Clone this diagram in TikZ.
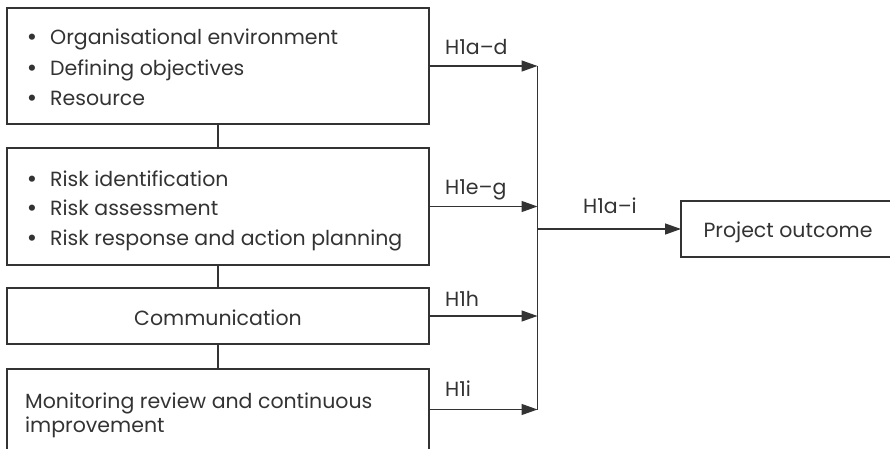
\documentclass[tikz,border=0pt]{standalone}
\usepackage{fontspec}
\setmainfont{Poppins}
\usetikzlibrary{arrows.meta}
\definecolor{ink}{HTML}{333333}
\begin{document}
\begin{tikzpicture}[x=1pt,y=-1pt,
  box/.style={draw=ink, line width=1.3pt, inner sep=0pt, outer sep=0pt},
  txt/.style={anchor=base west, inner sep=0pt, text=ink, font=\fontsize{20.5}{24}\selectfont},
  ctxt/.style={anchor=base, inner sep=0pt, text=ink, font=\fontsize{20.5}{24}\selectfont},
  bul/.style={anchor=base, inner sep=0pt, text=ink, font=\fontsize{25}{28}\selectfont},
  lbl/.style={anchor=base west, inner sep=0pt, text=ink, font=\fontsize{20.5}{24}\selectfont},
  arr/.style={draw=ink, line width=1.3pt, -{Triangle[length=16pt,width=11pt]}},
  link/.style={draw=ink, line width=1.3pt}]
\useasboundingbox (0,0) rectangle (890,449);
\clip (0,0) rectangle (890,449);
% boxes
\node[box, minimum width=422pt, minimum height=116pt] (b1) at (218,66) {};
\node[box, minimum width=422pt, minimum height=117pt] (b2) at (218,206.5) {};
\node[box, minimum width=422pt, minimum height=56pt] (b3) at (218,316) {};
\node[box, minimum width=422pt, minimum height=81pt] (b4) at (218,409.5) {};
\node[box, minimum width=214pt, minimum height=56pt] (po) at (788,229) {};
% texts box 1
\node[bul] (u1) at (32,46) {•};
\node[txt] (t1) at (50,45) {Organisational environment};
\node[bul] (u2) at (32,76.5) {•};
\node[txt] (t2) at (50,75.5) {Defining objectives};
\node[bul] (u3) at (32,107) {•};
\node[txt] (t3) at (50,106) {Resource};
% texts box 2
\node[bul] (u4) at (32,187) {•};
\node[txt] (t4) at (50,186) {Risk identification};
\node[bul] (u5) at (32,216.5) {•};
\node[txt] (t5) at (50,215.5) {Risk assessment};
\node[bul] (u6) at (32,246) {•};
\node[txt] (t6) at (50,245) {Risk response and action planning};
% box 3, 4
\node[ctxt] (t7) at (218,325) {Communication};
\node[txt] (t8) at (25,408) {Monitoring review and continuous};
\node[txt] (t9) at (25,432) {improvement};
\node[ctxt] (t10) at (788,237) {Project outcome};
% links between boxes
\draw[link] (b1.south) -- (b2.north);
\draw[link] (b2.south) -- (b3.north);
\draw[link] (b3.south) -- (b4.north);
% bus
\coordinate (bus) at (537.5,0);
\draw[link] (bus |- b1.east) -- (bus |- b4.east);
\draw[arr] (b1.east) -- (bus |- b1.east);
\draw[arr] (b2.east) -- (bus |- b2.east);
\draw[arr] (b3.east) -- (bus |- b3.east);
\draw[arr] (b4.east) -- (bus |- b4.east);
\draw[arr] (bus |- po.west) -- (po.west);
% labels
\node[lbl] (l1) at (445,55) {H1a–d};
\node[lbl] (l2) at (445,194) {H1e–g};
\node[lbl] (l3) at (445,306) {H1h};
\node[lbl] (l4) at (445,396) {H1i};
\node[lbl] (l5) at (583,213) {H1a–i};
\end{tikzpicture}
\end{document}
